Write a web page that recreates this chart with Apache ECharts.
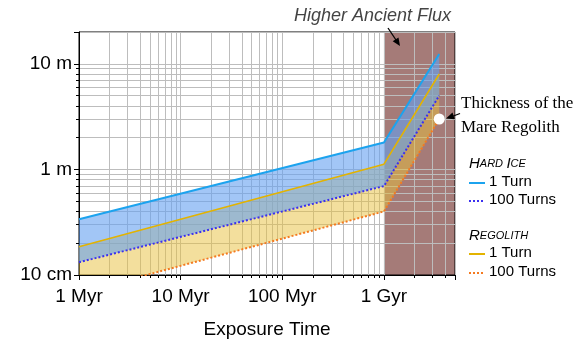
<!DOCTYPE html>
<html><head><meta charset="utf-8">
<script src="https://cdn.jsdelivr.net/npm/echarts@6/dist/echarts.min.js"></script>
<style>html,body{margin:0;padding:0;background:#fff}#c{width:577px;height:341px}</style>
</head><body><div id="c"></div>
<script>
// Exposure time (Myr) and depth (m)
const timesMyr = [1, 1000, 3500];
const hardIce1 = [0.337, 1.80, 12.4];
const hardIce100 = [0.132, 0.695, 5.0];
const regolith1 = [0.185, 1.12, 8.0];
const regolith100 = [0.0675, 0.40, 3.0];
const xTickLabels = {1: '1 Myr', 10: '10 Myr', 100: '100 Myr', 1000: '1 Gyr'};
const yTickLabels = {'0.1': '10 cm', '1': '1 m', '10': '10 m'};
const fluxRange = [1000, 5000];
const mareRegolith = [3500, 3.0];
const xRange = [1, 5000];
const yRange = [0.1, 20];

const pairs = (ys) => timesMyr.map((t, i) => [t, ys[i]]);
const FONT = 'Liberation Sans';

function bandSeries(upper, lower, color, z) {
  return {
    type: 'custom', z: z, silent: true,
    data: [[timesMyr[0], upper[0]]],
    renderItem: function (params, api) {
      const pts = [];
      for (let i = 0; i < timesMyr.length; i++) pts.push(api.coord([timesMyr[i], upper[i]]));
      for (let i = timesMyr.length - 1; i >= 0; i--) pts.push(api.coord([timesMyr[i], lower[i]]));
      const cs = params.coordSys;
      return {
        type: 'group',
        clipPath: {type: 'rect', shape: {x: cs.x, y: cs.y, width: cs.width, height: cs.height}},
        children: [{type: 'polygon', shape: {points: pts}, style: {fill: color}}]
      };
    }
  };
}

const fluxSeries = {
  type: 'custom', z: -1, silent: true,
  data: [[fluxRange[0], yRange[0]]],
  renderItem: function (params, api) {
    const p0 = api.coord([fluxRange[0], yRange[1]]);
    const p1 = api.coord([fluxRange[1], yRange[0]]);
    return {type: 'rect', z2: -10, shape: {x: p0[0], y: p0[1], width: p1[0] - p0[0], height: p1[1] - p0[1]}, style: {fill: '#a57b78'}};
  }
};

const chart = echarts.init(document.getElementById('c'));
const axisCommon = {
  type: 'log', logBase: 10, z: 1,
  axisLine: {show: true, lineStyle: {color: '#000', width: 1}},
  axisTick: {show: true, length: 5, lineStyle: {color: '#000'}},
  minorTick: {show: true, splitNumber: 9, length: 3, lineStyle: {color: '#000'}},
  splitLine: {show: true, lineStyle: {color: '#bdbdbd', width: 1}},
  minorSplitLine: {show: true, lineStyle: {color: '#bdbdbd', width: 1}}
};
const legendX = 469;
const legendItems = [
  {y: 183, color: '#1ca3ee', dash: null, text: '1 Turn'},
  {y: 201, color: '#3b30f0', dash: [2, 2], text: '100 Turns'},
  {y: 254, color: '#e3b300', dash: null, text: '1 Turn'},
  {y: 273, color: '#f47a20', dash: [2, 2], text: '100 Turns'}
];
const smallCaps = {a: {fontSize: 15, fontStyle: 'italic', fontFamily: FONT, color: '#888'}, b: {fontSize: 11, fontStyle: 'italic', fontFamily: FONT, color: '#888'}};
const graphics = [
  {type: 'text', z: 100, left: 294, top: 7, style: {text: 'Higher Ancient Flux', font: 'italic 18px "Liberation Sans"', fill: '#444'}},
  {type: 'line', z: 100, shape: {x1: 388, y1: 28, x2: 396, y2: 40}, style: {stroke: '#000', lineWidth: 1.3}},
  {type: 'polygon', z: 100, shape: {points: [[400, 46], [392.7, 41.3], [398.5, 37.5]]}, style: {fill: '#000'}},
  {type: 'line', z: 100, shape: {x1: 460, y1: 113.5, x2: 452, y2: 116.5}, style: {stroke: '#000', lineWidth: 1.3}},
  {type: 'polygon', z: 100, shape: {points: [[446, 118.5], [452.5, 112.6], [454.7, 119.2]]}, style: {fill: '#000'}},
  {type: 'text', z: 100, left: 461, top: 95, style: {text: 'Thickness of the', font: '17px "Liberation Serif"', fill: '#000'}},
  {type: 'text', z: 100, left: 461, top: 119, style: {text: 'Mare Regolith', font: '17px "Liberation Serif"', fill: '#000'}},
  {type: 'text', z: 100, left: legendX, top: 156, style: {text: '{a|H}{b|ARD} {a|I}{b|CE}', rich: smallCaps}},
  {type: 'text', z: 100, left: legendX, top: 228, style: {text: '{a|R}{b|EGOLITH}', rich: smallCaps}}
];
legendItems.forEach(it => {
  graphics.push({type: 'line', z: 100, shape: {x1: legendX, y1: it.y, x2: legendX + 16, y2: it.y},
    style: {stroke: it.color, lineWidth: 2, lineDash: it.dash || null}});
  graphics.push({type: 'text', z: 100, left: legendX + 20, top: it.y - 9, style: {text: it.text, font: '15px "Liberation Sans"', fill: '#000'}});
});

chart.setOption({
  animation: false,
  grid: {left: 79, right: 122, top: 32, bottom: 66, show: true, borderColor: '#000', borderWidth: 1, z: 1,
    containLabel: false, outerBoundsMode: 'none'},
  xAxis: Object.assign({}, axisCommon, {
    min: xRange[0], max: xRange[1],
    axisLabel: {fontSize: 19, fontFamily: FONT, color: '#000', margin: 12,
      formatter: v => xTickLabels[Math.round(v)] || ''},
    name: 'Exposure Time', nameLocation: 'middle', nameGap: 45,
    nameTextStyle: {fontSize: 19, fontFamily: FONT, color: '#000'}
  }),
  yAxis: Object.assign({}, axisCommon, {
    min: yRange[0], max: yRange[1],
    axisLabel: {fontSize: 19, fontFamily: FONT, color: '#000', margin: 7,
      formatter: v => yTickLabels[String(+v.toPrecision(3))] || ''}
  }),
  graphic: graphics,
  series: [
    fluxSeries,
    bandSeries(regolith1, regolith100, 'rgba(232,192,60,0.5)', 3),
    bandSeries(hardIce1, hardIce100, 'rgba(100,160,240,0.6)', 4),
    {type: 'line', z: 6, symbol: 'none', data: pairs(hardIce1), lineStyle: {color: '#1ca3ee', width: 2}},
    {type: 'line', z: 6, symbol: 'none', data: pairs(regolith1), lineStyle: {color: '#e3b300', width: 1.6}},
    {type: 'line', z: 6, symbol: 'none', data: pairs(hardIce100), lineStyle: {color: '#3b30f0', width: 2, type: [2, 2]}},
    {type: 'line', z: 6, symbol: 'none', data: pairs(regolith100), lineStyle: {color: '#f47a20', width: 2, type: [2, 2]}},
    {type: 'scatter', z: 8, data: [mareRegolith], symbolSize: 11, itemStyle: {color: '#fff', opacity: 1}}
  ]
});
</script></body></html>
